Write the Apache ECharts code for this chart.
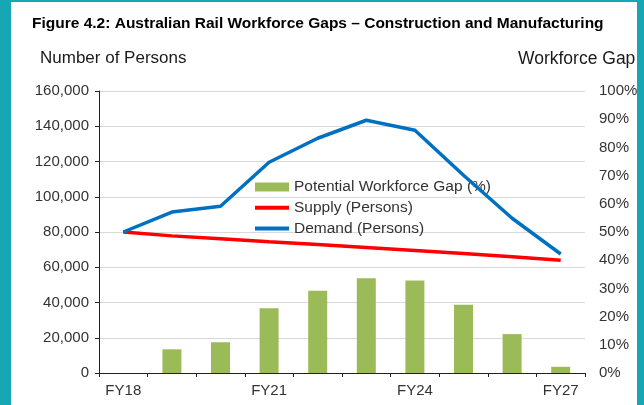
<!DOCTYPE html>
<html>
<head>
<meta charset="utf-8">
<script src="https://cdn.jsdelivr.net/npm/echarts@6/dist/echarts.min.js"></script>
<style>
html,body{margin:0;padding:0;background:#fff;}
#chart{width:644px;height:405px;}
</style>
</head>
<body>
<div id="chart"></div>
<script>
const categories = ['FY18','FY19','FY20','FY21','FY22','FY23','FY24','FY25','FY26','FY27'];
const gapPercent = [0, 8.4, 10.9, 23.0, 29.2, 33.6, 32.8, 24.2, 13.8, 2.2];
const supply = [80000, 77800, 76200, 74500, 72900, 71200, 69500, 67800, 65900, 64000];
const demand = [80000, 91300, 94600, 119600, 133200, 143400, 137700, 112200, 87800, 67500];
const leftTicks = {min: 0, max: 160000, interval: 20000};
const rightTicks = {min: 0, max: 100, interval: 10};

const FONT = '"Liberation Sans", Arial, sans-serif';
const chart = echarts.init(document.getElementById('chart'), null, {renderer: 'canvas'});
const teal = '#17A6B4';

chart.setOption({
  backgroundColor: '#ffffff',
  animation: false,
  title: {
    text: 'Figure 4.2: Australian Rail Workforce Gaps \u2013 Construction and Manufacturing',
    left: 27, top: 11,
    textStyle: {fontFamily: FONT, fontSize: 15.5, fontWeight: 'bold', color: '#000'}
  },
  grid: {left: 99, right: 59, top: 91, bottom: 32, containLabel: false},
  legend: {
    orient: 'vertical',
    left: 253, top: 179, padding: 0,
    itemWidth: 34, itemHeight: 9, itemGap: 4.7,
    textStyle: {fontFamily: FONT, fontSize: 15.5, color: '#333', lineHeight: 16},
    data: [
      {name: 'Potential Workforce Gap (%)', icon: 'rect'},
      {name: 'Supply (Persons)', itemStyle: {opacity: 0}, lineStyle: {width: 4}},
      {name: 'Demand (Persons)', itemStyle: {opacity: 0}, lineStyle: {width: 4}}
    ]
  },
  xAxis: {
    type: 'category',
    data: categories,
    boundaryGap: true,
    axisLine: {show: true, lineStyle: {color: '#222', width: 1}},
    axisTick: {show: true, interval: 0, length: 4, lineStyle: {color: '#222'}},
    axisLabel: {interval: 2, margin: 10, fontFamily: FONT, fontSize: 15, color: '#333'},
    splitLine: {show: false}
  },
  yAxis: [
    {
      type: 'value',
      min: leftTicks.min, max: leftTicks.max, interval: leftTicks.interval,
      axisLine: {show: true, lineStyle: {color: '#222'}},
      axisTick: {show: true, length: 4, lineStyle: {color: '#222'}},
      axisLabel: {margin: 10, fontFamily: FONT, fontSize: 15, color: '#333',
        formatter: v => v.toString().replace(/\B(?=(\d{3})+(?!\d))/g, ',')},
      splitLine: {show: true, lineStyle: {color: '#D9D9D9', width: 1}}
    },
    {
      type: 'value',
      min: rightTicks.min, max: rightTicks.max, interval: rightTicks.interval,
      position: 'right',
      axisLine: {show: false},
      axisTick: {show: false},
      axisLabel: {margin: 14, fontFamily: FONT, fontSize: 15, color: '#333', formatter: '{value}%'},
      splitLine: {show: false}
    }
  ],
  series: [
    {
      name: 'Potential Workforce Gap (%)',
      type: 'bar',
      yAxisIndex: 1,
      data: gapPercent,
      barWidth: 19,
      itemStyle: {color: '#9BBB59'},
      z: 1
    },
    {
      name: 'Supply (Persons)',
      type: 'line',
      yAxisIndex: 0,
      data: supply,
      symbol: 'none',
      lineStyle: {color: '#FF0000', width: 3.5},
      itemStyle: {color: '#FF0000'},
      z: 3
    },
    {
      name: 'Demand (Persons)',
      type: 'line',
      yAxisIndex: 0,
      data: demand,
      symbol: 'none',
      lineStyle: {color: '#0070C0', width: 3.5},
      itemStyle: {color: '#0070C0'},
      z: 4
    }
  ],
  graphic: [
    {type: 'text', left: 40, top: 50, style: {text: 'Number of Persons', font: '17px ' + FONT, fill: '#1a1a1a'}},
    {type: 'text', left: 518, top: 50, style: {text: 'Workforce Gap', font: '17.5px ' + FONT, fill: '#1a1a1a'}},
    {type: 'rect', left: 0, top: 0, z: 100, shape: {width: 11, height: 405}, style: {fill: teal}},
    {type: 'rect', left: 0, top: 0, z: 100, shape: {width: 644, height: 2}, style: {fill: teal}},
    {type: 'rect', left: 637, top: 0, z: 100, shape: {width: 7, height: 405}, style: {fill: teal}}
  ]
});
</script>
</body>
</html>
